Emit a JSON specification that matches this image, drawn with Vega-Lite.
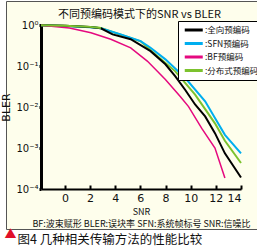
{
  "$schema": "https://vega.github.io/schema/vega-lite/v6.json",
  "background": "white",
  "padding": 0,
  "title": {"text": "▲", "orient": "bottom", "anchor": "start", "color": "#E0102A", "fontSize": 12, "font": "Noto Sans CJK SC", "offset": 0, "dy": -16, "dx": 4},
  "config": {
    "view": {"fill": "#FEFEEC", "stroke": "#555555", "strokeWidth": 1},
    "concat": {"spacing": 0},
    "title": {"font": "Noto Sans CJK SC", "fontWeight": "normal", "color": "#111111"}
  },
  "vconcat": [
    {
      "title": {"text": "图4  几种相关传输方法的性能比较", "orient": "bottom", "anchor": "start", "dx": 17, "fontSize": 12.5, "offset": 4, "font": "Noto Sans CJK SC", "fontWeight": "normal", "color": "#111111"},
      "vconcat": [
        {
          "title": {"text": "不同预编码模式下的SNR vs BLER", "orient": "top", "anchor": "middle", "offset": -19, "dx": 5, "fontSize": 11, "font": "Noto Sans CJK SC", "fontWeight": "normal", "color": "#111111"},
          "width": 257,
          "height": 228,
          "data": {"values": [
            {"s": "全向预编码", "snr": -1.9, "bler": 0.98},
            {"s": "全向预编码", "snr": 0, "bler": 0.96},
            {"s": "全向预编码", "snr": 2, "bler": 0.89},
            {"s": "全向预编码", "snr": 2.86, "bler": 0.83},
            {"s": "全向预编码", "snr": 3.79, "bler": 0.59},
            {"s": "全向预编码", "snr": 5.23, "bler": 0.45},
            {"s": "全向预编码", "snr": 6.81, "bler": 0.23},
            {"s": "全向预编码", "snr": 7.99, "bler": 0.11},
            {"s": "全向预编码", "snr": 8.78, "bler": 0.056},
            {"s": "全向预编码", "snr": 9.57, "bler": 0.026},
            {"s": "全向预编码", "snr": 10.35, "bler": 0.0115},
            {"s": "全向预编码", "snr": 11.15, "bler": 0.0059},
            {"s": "全向预编码", "snr": 11.93, "bler": 0.0023},
            {"s": "全向预编码", "snr": 12.72, "bler": 0.00074},
            {"s": "全向预编码", "snr": 14, "bler": 0.00019},
            {"s": "SFN预编码", "snr": -1.9, "bler": 0.98},
            {"s": "SFN预编码", "snr": 0, "bler": 0.95},
            {"s": "SFN预编码", "snr": 2, "bler": 0.88},
            {"s": "SFN预编码", "snr": 2.86, "bler": 0.83},
            {"s": "SFN预编码", "snr": 4.44, "bler": 0.59},
            {"s": "SFN预编码", "snr": 6.02, "bler": 0.405},
            {"s": "SFN预编码", "snr": 6.81, "bler": 0.278},
            {"s": "SFN预编码", "snr": 7.99, "bler": 0.145},
            {"s": "SFN预编码", "snr": 9.57, "bler": 0.051},
            {"s": "SFN预编码", "snr": 11.15, "bler": 0.0138},
            {"s": "SFN预编码", "snr": 11.93, "bler": 0.0054},
            {"s": "SFN预编码", "snr": 12.72, "bler": 0.0021},
            {"s": "SFN预编码", "snr": 14, "bler": 0.00074},
            {"s": "BF预编码", "snr": -1.9, "bler": 0.98},
            {"s": "BF预编码", "snr": 0.36, "bler": 0.84},
            {"s": "BF预编码", "snr": 2.07, "bler": 0.65},
            {"s": "BF预编码", "snr": 3.65, "bler": 0.45},
            {"s": "BF预编码", "snr": 5.23, "bler": 0.278},
            {"s": "BF预编码", "snr": 6.55, "bler": 0.132},
            {"s": "BF预编码", "snr": 7.99, "bler": 0.047},
            {"s": "BF预编码", "snr": 9.17, "bler": 0.018},
            {"s": "BF预编码", "snr": 9.83, "bler": 0.0102},
            {"s": "BF预编码", "snr": 10.88, "bler": 0.003},
            {"s": "BF预编码", "snr": 11.93, "bler": 0.001},
            {"s": "BF预编码", "snr": 12.72, "bler": 0.000186},
            {"s": "分布式预编码", "snr": -1.9, "bler": 0.98},
            {"s": "分布式预编码", "snr": 0, "bler": 0.96},
            {"s": "分布式预编码", "snr": 2, "bler": 0.9},
            {"s": "分布式预编码", "snr": 2.86, "bler": 0.84},
            {"s": "分布式预编码", "snr": 4.44, "bler": 0.58},
            {"s": "分布式预编码", "snr": 6.02, "bler": 0.4},
            {"s": "分布式预编码", "snr": 7.2, "bler": 0.19},
            {"s": "分布式预编码", "snr": 8.78, "bler": 0.074},
            {"s": "分布式预编码", "snr": 10.35, "bler": 0.02},
            {"s": "分布式预编码", "snr": 11.15, "bler": 0.0089},
            {"s": "分布式预编码", "snr": 11.93, "bler": 0.004},
            {"s": "分布式预编码", "snr": 12.72, "bler": 0.0015},
            {"s": "分布式预编码", "snr": 14, "bler": 0.00043}
          ]},
          "encoding": {
            "x": {
              "field": "snr", "type": "quantitative",
              "scale": {"domain": [-1.9, 14], "range": [35, 235], "nice": false, "zero": false},
              "axis": {
                "orient": "bottom", "offset": -40, "values": [0, 2, 4, 6, 8, 10, 12, 14],
                "title": ["SNR", "BF:波束赋形  BLER:误块率  SFN:系统帧标号  SNR:信噪比"],
                "titleFont": "Noto Sans CJK SC", "titleFontWeight": "normal", "titleFontSize": 9, "titleColor": "#111111",
                "titleLineHeight": 12, "titlePadding": 4,
                "grid": false, "domainColor": "black", "domainWidth": 2,
                "tickColor": "black", "tickWidth": 2, "tickSize": -4,
                "labelFont": "DejaVu Sans", "labelFontSize": 11, "labelColor": "#111111", "labelPadding": 7
              }
            },
            "y": {
              "field": "bler", "type": "quantitative",
              "scale": {"type": "log", "domain": [0.0001, 1], "range": [188, 24], "nice": false},
              "axis": {
                "orient": "left", "offset": -35, "values": [1, 0.1, 0.01, 0.001, 0.0001],
                "labelExpr": "datum.value >= 0.99 ? '10⁰' : datum.value >= 0.099 ? '10⁻¹' : datum.value >= 0.0099 ? '10⁻²' : datum.value >= 0.00099 ? '10⁻³' : '10⁻⁴'",
                "title": "BLER", "titleFont": "DejaVu Sans", "titleFontWeight": "normal", "titleFontSize": 11, "titleColor": "#111111", "titlePadding": 4,
                "grid": false, "domainColor": "black", "domainWidth": 3,
                "tickColor": "black", "tickWidth": 3, "tickSize": 2,
                "labelFont": "DejaVu Sans", "labelFontSize": 10, "labelColor": "#111111", "labelPadding": 1
              }
            },
            "color": {
              "field": "s", "type": "nominal",
              "scale": {"domain": ["全向预编码", "SFN预编码", "BF预编码", "分布式预编码"], "range": ["#000000", "#00AEEF", "#E5097F", "#7CC22E"]},
              "legend": {
                "orient": "none", "legendX": 172, "legendY": 20, "title": null,
                "fillColor": "white", "strokeColor": "black", "padding": 3,
                "symbolType": "M-0.5,0H3.5", "symbolSize": 81, "symbolStrokeWidth": 3,
                "labelFont": "Noto Sans CJK SC", "labelFontSize": 8.5, "labelColor": "#111111",
                "labelExpr": "':' + datum.label", "labelOffset": 12, "rowPadding": 1.5
              }
            }
          },
          "layer": [
            {"transform": [{"filter": "datum.s == '分布式预编码'"}], "mark": {"type": "line", "strokeWidth": 2}},
            {"transform": [{"filter": "datum.s == 'SFN预编码'"}], "mark": {"type": "line", "strokeWidth": 2}},
            {"transform": [{"filter": "datum.s == '全向预编码'"}], "mark": {"type": "line", "strokeWidth": 2}},
            {"transform": [{"filter": "datum.s == 'BF预编码'"}], "mark": {"type": "line", "strokeWidth": 1.5}},
            {"transform": [{"filter": "datum.s == '分布式预编码' && datum.snr <= 2.9"}], "mark": {"type": "line", "strokeWidth": 2}}
          ]
        }
      ]
    }
  ]
}
